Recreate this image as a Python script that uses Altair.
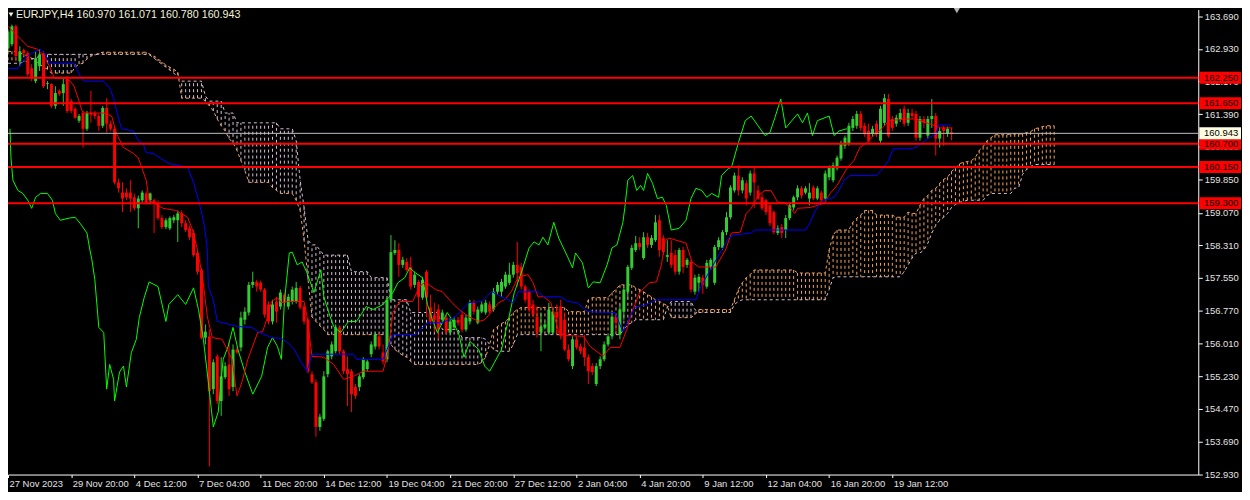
import altair as alt
import pandas as pd

# ---------------- candle data (EURJPY H4), bar 0 .. 239 ----------------
OPEN = [
162.94,163.04,163.46,162.64,162.90,162.83,162.47,162.17,162.52,162.83,
162.10,162.10,161.59,161.94,161.89,162.22,161.70,161.52,161.24,161.42,
161.05,161.42,161.42,161.35,161.12,161.54,161.17,161.05,159.79,159.55,
159.55,159.55,159.44,159.18,159.37,159.53,159.37,159.37,159.30,158.95,
158.74,158.71,158.90,158.90,159.06,158.83,158.71,158.60,158.13,157.73,
156.14,156.17,154.93,155.70,154.65,155.21,155.51,154.98,155.86,155.91,
156.56,156.73,157.38,157.45,157.43,157.27,156.92,156.52,156.99,156.87,
157.15,156.87,156.99,156.99,157.31,156.87,156.56,155.28,155.09,154.04,
154.23,155.28,155.70,155.82,156.38,155.82,155.40,155.35,154.98,154.98,
155.21,155.40,155.75,155.93,156.17,155.79,155.63,157.03,158.13,158.20,
157.85,157.92,157.80,157.38,157.45,157.08,157.69,156.85,156.66,156.80,
156.56,156.61,156.26,156.38,156.56,156.68,156.33,156.52,156.96,156.49,
156.75,156.73,156.92,156.80,157.22,157.22,157.34,157.43,157.62,157.85,
157.80,157.34,157.22,156.92,156.63,156.26,156.38,156.26,156.26,156.75,
156.87,156.56,155.86,155.47,156.10,155.93,155.91,155.68,155.47,155.05,
155.47,155.63,155.98,156.17,156.63,156.21,156.75,157.22,157.78,158.20,
158.36,158.01,158.50,158.32,158.43,158.90,158.48,158.04,158.13,158.08,
157.69,158.20,157.85,157.92,157.22,157.43,157.55,157.34,157.80,157.43,
158.27,158.25,158.62,158.97,159.60,159.95,159.60,159.77,159.55,160.00,
159.60,159.44,159.37,159.25,159.09,158.60,158.74,158.67,158.95,159.20,
159.44,159.65,159.55,159.41,159.67,159.41,159.55,159.41,159.91,159.84,
160.12,160.35,160.65,160.70,161.07,161.12,161.40,161.12,161.00,160.93,
161.17,160.77,161.19,161.75,161.28,161.17,161.28,161.52,161.19,161.42,
161.40,160.84,161.28,160.89,161.28,161.35,160.82,161.07,160.93,160.970,
]
HIGH = [
163.39,163.50,163.50,162.99,162.94,162.87,162.57,162.87,162.92,162.87,
162.17,162.12,162.05,161.98,162.24,162.29,161.75,161.56,161.40,161.47,
161.47,161.94,161.47,161.40,161.59,161.77,161.24,161.10,159.88,159.79,
159.65,159.84,159.53,159.48,159.60,159.58,159.55,159.41,159.37,159.02,
158.95,158.99,159.02,159.13,159.13,158.90,158.78,158.67,158.20,157.78,
156.45,156.33,155.63,155.75,155.68,155.56,156.03,155.98,155.93,156.75,
156.85,157.45,157.69,157.50,157.48,157.31,156.99,157.03,157.10,157.27,
157.20,157.17,157.34,157.45,157.36,156.94,156.61,155.35,155.16,154.35,
155.35,155.86,156.05,156.45,156.42,155.86,155.70,155.40,155.05,155.28,
155.68,155.63,156.05,156.28,156.24,155.98,157.08,158.55,158.43,158.36,
158.04,158.01,158.04,157.69,157.50,157.57,157.73,157.15,156.96,156.92,
156.80,156.68,156.61,156.63,156.63,156.75,156.68,157.03,157.03,156.87,
156.99,157.03,156.99,157.31,157.45,157.52,157.69,157.90,157.92,158.39,
157.90,157.38,157.27,157.03,156.87,156.73,156.52,156.96,156.85,156.92,
157.03,156.73,155.98,156.17,156.17,156.00,156.21,155.75,155.54,155.54,
155.70,156.05,156.21,156.75,156.68,156.92,157.34,157.85,158.32,158.53,
158.50,158.62,158.60,158.55,159.02,159.02,158.55,158.43,158.43,158.20,
158.25,158.27,158.01,157.97,157.62,157.64,157.62,157.97,158.01,158.32,
158.50,158.67,159.09,159.72,160.02,160.19,159.91,159.84,160.07,160.14,
159.72,159.53,159.41,159.30,159.13,158.78,158.81,159.02,159.32,159.48,
159.72,159.70,159.70,159.77,159.72,159.70,159.60,160.07,160.19,160.26,
160.42,160.77,160.89,161.19,161.35,161.47,161.47,161.19,161.17,161.12,
161.24,161.59,161.87,161.87,161.35,161.38,161.52,161.59,161.52,161.52,
161.47,161.35,161.35,161.35,161.75,161.42,161.07,161.12,161.10,161.071,
]
LOW = [
162.87,162.99,162.64,162.52,162.76,162.29,162.17,162.12,162.41,162.01,
161.98,161.54,161.52,161.82,161.59,161.42,161.42,161.28,161.19,160.61,
161.00,161.19,161.28,161.00,161.07,160.96,161.00,159.74,159.55,159.09,
159.37,159.09,159.13,158.71,159.32,159.27,159.27,158.60,158.90,158.69,
158.69,158.67,158.83,158.39,158.74,158.62,158.43,158.04,157.62,156.10,
155.98,153.11,154.81,154.58,154.30,155.16,154.77,154.88,155.75,155.82,
156.45,156.66,157.31,157.22,157.22,156.61,156.45,156.45,156.49,156.80,
156.89,156.80,156.92,156.94,156.80,156.45,155.30,155.05,153.81,153.95,
154.18,155.21,155.63,155.77,155.75,155.28,154.53,154.39,154.70,154.88,
155.16,155.35,155.68,155.86,155.86,155.51,155.56,156.99,158.08,157.57,
157.78,157.69,157.27,157.31,156.75,157.03,156.63,156.45,156.26,156.10,
156.52,156.21,156.19,156.33,156.42,156.26,156.28,156.45,156.68,156.45,
156.71,156.68,156.71,156.75,157.15,157.10,157.29,157.38,157.55,157.34,
157.27,156.96,156.73,156.61,156.14,155.82,156.33,156.21,156.21,156.21,
156.10,155.82,155.58,155.40,155.86,155.75,155.47,155.05,155.26,155.00,
155.40,155.58,155.93,156.10,156.26,156.10,156.56,157.03,157.73,158.15,
158.20,157.97,158.25,158.25,158.39,158.04,158.08,157.92,157.78,157.62,
157.62,157.66,157.78,157.20,157.15,157.22,157.17,157.29,157.73,157.38,
158.20,158.20,158.55,158.92,159.55,159.48,159.53,159.25,159.48,159.18,
159.37,159.13,159.02,158.76,158.57,158.55,158.48,158.48,158.90,159.13,
159.37,159.41,159.51,159.25,159.37,159.37,159.30,159.37,159.84,159.79,
160.07,160.30,160.58,160.65,161.00,161.05,161.00,160.86,160.72,160.86,
160.86,160.72,161.12,160.84,161.00,161.10,161.21,161.10,161.12,161.28,
160.77,160.77,161.07,160.82,161.07,160.42,160.61,160.65,160.86,160.780,
]
CLOSE = [
163.34,163.46,162.76,162.87,162.83,162.33,162.24,162.71,162.80,162.05,
162.12,161.59,161.89,161.87,162.10,161.47,161.47,161.31,161.35,161.05,
161.42,161.38,161.35,161.12,161.54,161.17,161.05,159.79,159.65,159.41,
159.44,159.41,159.18,159.41,159.55,159.32,159.53,159.30,158.95,158.74,
158.90,158.95,158.97,159.06,158.83,158.67,158.50,158.08,157.69,156.14,
156.28,154.88,155.56,154.65,155.23,155.47,154.93,155.86,155.79,156.61,
156.75,157.38,157.45,157.34,157.27,156.68,156.52,156.92,156.75,157.20,
156.96,157.10,157.27,157.31,156.85,156.52,155.35,155.09,154.04,154.28,
155.23,155.82,155.98,156.38,155.82,155.35,155.28,154.81,154.77,155.23,
155.63,155.58,155.98,156.21,155.93,155.58,157.03,158.15,158.20,157.85,
157.97,157.73,157.34,157.62,157.10,157.50,157.08,156.52,156.56,156.33,
156.73,156.28,156.52,156.56,156.49,156.33,156.61,156.96,156.75,156.80,
156.92,156.96,156.75,157.22,157.38,157.45,157.62,157.62,157.85,157.66,
157.34,157.03,156.80,156.68,156.26,156.40,156.45,156.80,156.75,156.61,
156.17,155.86,155.63,156.10,155.91,155.82,155.68,155.35,155.33,155.47,
155.63,155.98,156.17,156.63,156.49,156.80,157.27,157.80,158.25,158.36,
158.27,158.50,158.32,158.48,158.85,158.20,158.15,158.08,157.85,157.69,
158.20,157.80,157.97,157.27,157.55,157.57,157.38,157.90,157.97,158.27,
158.43,158.62,158.97,159.67,159.95,159.60,159.84,159.41,160.00,159.79,
159.41,159.18,159.09,158.83,158.62,158.71,158.60,158.95,159.25,159.44,
159.65,159.48,159.65,159.55,159.41,159.65,159.37,160.00,160.14,160.19,
160.37,160.72,160.84,161.12,161.28,161.40,161.07,160.93,160.77,161.05,
160.93,161.52,161.77,160.89,161.07,161.31,161.42,161.17,161.42,161.35,
160.84,161.28,161.19,161.28,161.35,160.82,161.00,161.00,161.05,160.943,
]

# ---------------- Ichimoku senkou spans, bar 0 .. 265 ----------------
SPAN_A = [
162.87,162.87,162.87,162.83,162.80,162.76,162.71,162.64,162.57,162.50,162.45,
162.36,162.36,162.36,162.36,162.36,162.36,
162.50,162.57,162.59,162.69,162.76,162.78,162.83,
162.85,162.85,162.85,162.85,162.85,162.85,162.85,162.85,162.85,162.85,162.85,162.85,
162.80,162.76,162.69,162.62,162.55,162.50,162.45,162.38,
161.77,161.77,161.77,161.77,161.77,161.77,
161.70,161.59,161.47,161.28,161.12,161.00,160.82,160.72,160.54,160.30,160.07,
159.79,159.79,159.79,159.79,159.79,159.79,
159.67,159.60,
159.53,159.53,159.53,159.53,
159.37,159.13,158.43,157.50,156.63,156.52,156.42,156.33,
156.21,156.21,156.21,156.21,156.21,156.21,156.21,156.21,156.21,156.21,156.21,156.21,156.21,156.21,156.21,156.21,
155.98,155.86,155.79,155.72,155.68,155.58,
155.51,155.51,155.51,155.51,155.51,155.51,155.51,155.51,155.51,155.51,155.51,155.51,155.51,155.51,155.51,155.51,155.51,
155.56,155.68,155.98,156.33,156.40,156.47,156.52,156.61,156.73,156.80,
156.85,156.85,156.85,156.85,156.85,156.85,156.85,156.85,156.85,156.85,156.85,156.85,
156.75,156.75,156.75,156.75,156.75,
157.03,
157.08,157.08,157.08,157.08,157.08,
157.20,157.27,
157.38,157.38,157.38,157.38,
157.31,157.27,157.22,157.15,157.10,157.03,156.99,156.94,156.89,
156.61,156.61,156.61,156.61,156.61,156.61,
156.68,
156.80,156.80,156.80,156.80,156.80,156.80,156.80,156.80,156.80,
157.03,157.27,157.43,157.55,157.62,
157.73,157.73,157.73,157.73,157.73,157.73,157.73,157.73,157.73,157.73,157.73,
157.66,157.66,157.66,157.66,157.66,157.66,157.66,157.66,
158.20,158.55,
158.67,158.67,158.67,158.67,
158.85,158.95,159.02,
159.13,159.13,159.13,
159.02,159.02,159.02,159.02,159.02,
158.97,158.97,158.97,
159.09,159.06,159.06,159.25,159.41,159.48,159.60,159.65,159.77,159.86,159.91,
160.05,160.12,160.23,160.26,160.28,160.30,160.37,160.54,160.63,160.77,160.84,
160.91,160.91,160.91,160.91,
160.93,160.93,160.93,160.93,
160.96,160.98,161.05,161.07,161.10,
161.12,161.12,161.12,
]
SPAN_B = [
162.59,162.59,162.59,162.59,162.62,162.64,162.69,162.71,162.76,162.78,162.80,
162.80,162.80,162.80,162.80,162.80,162.80,162.80,162.80,162.80,162.80,162.80,162.80,162.80,
162.80,162.80,162.80,162.80,162.80,162.80,162.80,162.80,162.80,162.80,162.80,162.80,
162.78,162.71,162.64,162.57,162.50,162.43,162.36,162.26,
162.17,162.17,162.17,162.17,162.17,162.17,
161.82,
161.70,161.70,161.70,161.70,
161.42,161.42,161.42,
161.19,161.19,161.19,161.19,161.19,161.19,161.19,161.19,161.19,161.19,161.19,
161.05,161.05,161.05,161.05,
160.77,159.84,159.20,158.43,158.32,158.32,158.20,
158.08,158.08,158.08,158.08,158.08,158.08,158.08,
157.69,157.69,157.69,157.69,157.69,
157.55,157.55,157.55,157.55,157.55,
157.03,157.03,157.03,157.03,157.03,
156.73,156.73,156.73,156.73,156.73,156.73,156.73,156.73,
156.33,156.33,156.33,156.33,156.33,
156.14,156.14,156.14,156.14,156.14,156.14,
156.10,155.98,155.86,
155.82,155.82,155.82,155.82,
155.98,156.21,
156.21,156.21,156.21,156.21,156.21,156.21,156.21,156.21,156.21,156.21,156.21,156.21,156.21,
156.21,156.21,156.21,156.21,156.21,156.21,156.21,156.21,156.21,156.21,156.21,156.21,156.21,
156.33,156.45,156.49,
156.56,156.56,156.56,156.56,156.56,156.56,156.56,156.56,
156.85,
156.99,156.99,156.99,156.99,156.99,156.99,
156.80,
156.73,156.73,156.73,156.73,156.73,156.73,156.73,156.73,156.73,
156.92,156.99,
157.03,157.03,157.03,157.03,157.03,157.03,157.03,157.03,157.03,157.03,157.03,
157.03,157.03,157.03,157.03,157.03,157.03,157.03,157.03,157.03,157.03,157.03,
157.27,157.55,
157.57,157.57,157.57,157.57,157.57,157.57,157.57,157.57,157.57,157.57,157.57,157.57,157.57,
157.57,157.57,157.57,157.57,
157.69,157.85,158.01,158.13,158.13,158.20,158.36,158.60,158.78,158.90,158.97,159.06,
159.20,159.27,159.32,159.34,
159.37,159.37,159.37,159.37,159.37,
159.48,159.53,
159.53,159.53,159.53,159.53,159.53,
159.65,159.67,159.98,160.09,160.16,
160.21,160.21,160.21,160.21,160.21,160.21,
]

# ---------------- Ichimoku lines: (bar, price) vertices ----------------
TENKAN_BAR = [0,3.25,5,7.5,9.5,10.5,11.75,14.5,15.75,16.75,18,18.75,19.5,24.25,26.25,27.5,29.25,31.75,33,35,
35.75,39.25,42.5,45.5,46.75,48,49.25,50.5,51.75,54.25,55.5,56.75,58,59.25,60.75,63.25,64.5,65.5,66.75,68.25,
69.25,70.75,75,75.75,77,80,82.5,85,87.5,90,95,96.25,97.5,99.25,102.5,104.25,105.75,108.25,110,112.5,
114.25,116.75,119.25,120.75,122.5,124.25,125.75,127.5,129.25,131.75,133,134.25,135.75,137.5,139.5,141.25,145.75,147.5,150.75,152.5,
155,156.75,158,160,162.5,164.25,165.5,166.5,167.5,171.75,173.25,175,179.25,181.75,183.25,185.5,187,188.25,190,191.75,
193.25,195,196.75,198.25,199.25,200,203.25,206.75,208.25,210,212.5,214.25,215.75,217.5,219.25,220.75,223.25,227.5,230,233.25,
235,236.25,239.25]
TENKAN_P = [163.46,163.15,162.99,162.92,162.69,162.52,162.24,162.24,162.17,162.05,161.70,161.47,161.42,161.42,161.35,160.93,160.61,160.47,160.37,159.84,
159.37,159.18,159.13,158.97,158.67,158.20,157.57,156.63,156.14,156.10,155.86,155.63,154.77,155.09,155.63,156.26,156.28,156.56,156.99,157.08,
156.96,156.99,156.99,156.63,155.70,155.68,155.51,155.16,155.23,155.35,155.35,155.79,156.73,156.99,156.99,157.34,157.45,157.27,157.22,156.96,
156.80,156.63,156.52,156.56,156.75,156.96,157.03,157.22,157.57,157.62,157.43,157.10,157.10,156.96,156.26,156.19,156.17,155.93,155.70,155.91,
155.91,156.33,156.73,157.20,157.43,157.45,157.85,158.43,158.48,158.36,157.92,157.80,157.80,158.20,158.60,158.62,159.06,159.18,159.48,159.60,
159.60,159.32,159.32,159.18,159.06,159.18,159.20,159.30,159.53,159.72,160.12,160.30,160.61,160.72,160.89,161.00,161.24,161.28,161.28,161.17,
161.12,161.07,161.07]

KIJUN_BAR = [0,2.5,4.25,5.5,8,9.25,10.5,16.75,17.5,18.25,19.25,24.25,25.75,26.75,27.5,28.75,31.75,33,34.25,35,
36.75,40.75,43.25,45.5,47,48.25,49.5,50,50.5,50.75,52,53,54.5,58.25,61.75,63.75,66.75,69.25,70.75,72.5,
74.25,75.75,77,87.5,88.25,95,96.75,97.5,103.25,106.25,110,113.25,115,116.75,120,122.5,125,126.75,128,129.25,
134.25,135.75,140,141.75,144.25,146.75,153.75,155.75,157,158.75,161.75,164.25,174.25,175.5,182.5,183.75,188.25,189.25,202,203.25,
204.5,205.75,206.75,209.25,210.5,211.75,213.25,220,221.75,223,224.25,228.25,230,233,235,235.75,238.75]
KIJUN_P = [162.47,162.47,162.69,162.80,162.92,162.83,162.59,162.59,162.45,162.29,162.17,162.17,162.01,161.77,161.47,161.05,161.00,160.77,160.70,160.49,
160.47,160.23,160.19,160.14,159.79,159.37,158.90,158.60,158.20,157.34,157.03,156.52,156.49,156.40,156.38,156.26,156.14,156.12,156.03,155.86,
155.56,155.35,155.75,155.75,155.63,155.63,156.03,156.21,156.21,156.49,156.49,156.63,156.80,156.96,156.99,157.22,157.10,157.03,156.96,157.22,
157.22,157.10,157.10,156.99,156.96,156.75,156.73,156.28,156.52,156.85,156.92,157.03,157.03,157.34,158.48,158.55,158.60,158.67,158.67,158.85,
159.13,159.30,159.37,159.44,159.60,159.84,159.95,159.95,160.14,160.30,160.58,160.58,160.61,160.82,160.93,161.14,161.14]

CHIKOU_BAR = [0.5,0.75,1.25,2.5,3.75,5,6,7,8.25,10,11.25,12,13.25,15.5,17,18.25,20,20.75,21.25,22,
23,24.25,25,25.75,26.75,27,28.25,29.25,30,31.25,32.5,33.25,34.5,35.75,38,40,40.75,43,45,47,
48.25,49.5,50.75,52,53.25,54.5,55.75,57,58.25,60,62,64.25,65.75,67,68.25,69.25,70,71.25,72,73.25,
74.5,75.75,77.5,79.25,80,81.25,82.5,84.25,86.25,88.25,90.75,92.5,95,97.5,98.75,100.5,101.75,103.25,105,106.25,
107.5,108.75,110,111.25,112.5,114.25,115.5,117,119.25,120.75,122,123.25,125,126.75,128.25,130,132,133.25,134.5,135.5,
136.75,138.25,139.5,141.75,143,143.75,145.5,147,148.25,150,151.75,153,154.25,155.75,156.25,157,158.25,159.25,160.25,161,
162,163.25,164.5,165.75,166.75,168,170,171.75,173,174.25,175.75,177,178.25,180,180.75,182.5,183.25,185,186.75,188.25,
190,191.75,193,194.25,195.75,197,200,201.25,202.5,203.75,205,208,209.25,210.5,212.5]
CHIKOU_P = [161.05,160.37,159.84,159.60,159.53,159.37,159.18,159.44,159.53,159.53,159.37,159.06,158.90,158.95,158.97,158.83,158.60,158.20,157.97,157.50,
156.38,156.26,154.93,155.51,155.16,154.65,155.33,155.47,154.98,155.79,156.10,156.61,157.08,157.45,157.34,156.52,156.92,157.15,156.92,157.31,
156.80,156.10,155.09,154.04,154.39,155.63,155.93,156.38,155.86,155.33,154.81,155.23,155.91,156.14,155.93,155.63,156.96,158.13,158.15,157.85,
157.92,157.66,157.20,157.73,157.10,156.73,156.40,156.26,156.52,156.52,156.87,156.80,156.92,157.20,157.43,157.55,157.78,157.66,157.55,156.92,
156.56,156.26,156.49,156.73,156.56,156.21,155.68,156.05,155.86,155.47,155.35,155.56,155.86,156.56,157.20,157.66,158.25,158.39,158.32,158.50,
158.32,158.85,158.48,158.04,157.78,158.13,157.90,157.31,157.45,157.43,157.85,158.25,158.32,158.85,159.20,159.84,159.95,159.60,159.72,159.60,
160.00,159.77,159.41,159.44,159.25,158.67,158.71,158.90,159.41,159.65,159.60,159.44,159.53,159.44,159.95,160.12,160.14,160.72,161.24,161.35,
161.12,160.89,160.96,161.31,161.75,161.07,161.40,161.19,161.42,160.89,161.24,161.35,160.89,161.00,161.05]

# ---------------- horizontal levels & axis labels ----------------
LEVELS = [162.250, 161.650, 160.700, 160.150, 159.300]
CURRENT = 160.943
PRICE_TICKS = [163.690,162.930,162.170,161.390,160.630,159.850,159.070,158.310,
               157.550,156.770,156.010,155.230,154.470,153.690,152.930]
TIME_TICK_BARS = [0,16,32,48,64,80,96,112,128,144,160,176,192,208,224]
TIME_LABELS = ["27 Nov 2023","29 Nov 20:00","4 Dec 12:00","7 Dec 04:00","11 Dec 20:00",
               "14 Dec 12:00","19 Dec 04:00","21 Dec 20:00","27 Dec 12:00","2 Jan 04:00",
               "4 Jan 20:00","9 Jan 12:00","12 Jan 04:00","16 Jan 20:00","19 Jan 12:00"]
HEADER = "EURJPY,H4  160.970 161.071 160.780 160.943"

# ---------------- frames ----------------
candles = pd.DataFrame({"bar": list(range(len(CLOSE))), "open": OPEN, "high": HIGH,
                        "low": LOW, "close": CLOSE})
candles["kind"] = ["bull" if c >= o else "bear" for o, c in zip(OPEN, CLOSE)]
cloud = pd.DataFrame({"bar": list(range(len(SPAN_A))), "a": SPAN_A, "b": SPAN_B})
cloud["kind"] = ["kumo_up" if a >= b else "kumo_down" for a, b in zip(SPAN_A, SPAN_B)]
tenkan = pd.DataFrame({"bar": TENKAN_BAR, "price": TENKAN_P})
kijun = pd.DataFrame({"bar": KIJUN_BAR, "price": KIJUN_P})
chikou = pd.DataFrame({"bar": CHIKOU_BAR, "price": CHIKOU_P})
levels = pd.DataFrame({"price": LEVELS, "label": [f"{v:.3f}" for v in LEVELS]})
current = pd.DataFrame({"price": [CURRENT], "label": [f"{CURRENT:.3f}"]})
header = pd.DataFrame({"t": [HEADER]})

W, H = 1198, 468
FONT = "Liberation Sans"
LBL = "#e2e2e2"

xs = alt.Scale(domain=[0, 301.5], nice=False, zero=False)
ys = alt.Scale(domain=[152.921, 163.853], nice=False, zero=False)

label_arr = "[" + ",".join("'" + s + "'" for s in TIME_LABELS) + "]"
x_axis = alt.Axis(values=TIME_TICK_BARS, labelExpr=label_arr + "[round(datum.value/16)]",
                  title=None, grid=False, labelAlign="left", labelOffset=1, labelBaseline="top",
                  labelPadding=1, tickSize=3, labelOverlap=False, labelFlush=False,
                  labelColor=LBL, labelFont=FONT, labelFontSize=9.5,
                  domainColor="#ffffff", tickColor="#ffffff", zindex=0)
y_axis = alt.Axis(orient="right", values=PRICE_TICKS, format=".3f", title=None, grid=False,
                  tickSize=4, labelPadding=2, labelOverlap=False, labelFlush=False,
                  labelColor=LBL, labelFont=FONT, labelFontSize=9.5,
                  domainColor="#ffffff", tickColor="#ffffff", zindex=0)


def X(field="bar"):
    return alt.X(f"{field}:Q", scale=xs, axis=x_axis)


def Y(field):
    return alt.Y(f"{field}:Q", scale=ys, axis=y_axis)


kind_color = alt.Color(
    "kind:N",
    scale=alt.Scale(domain=["bull", "bear", "kumo_up", "kumo_down"],
                    range=["#32cd32", "#ff0000", "#f4a460", "#d8bfd8"]),
    legend=None)

cloud_cols = alt.Chart(cloud).mark_rule(strokeWidth=1, strokeDash=[3, 3]).encode(
    x=X(), y=Y("a"), y2="b", color=kind_color)
span_a = alt.Chart(cloud).mark_line(color="#f4a460", strokeWidth=1, strokeDash=[3, 3]).encode(
    x=X(), y=Y("a"))
span_b = alt.Chart(cloud).mark_line(color="#d8bfd8", strokeWidth=1, strokeDash=[3, 3]).encode(
    x=X(), y=Y("b"))

wicks = alt.Chart(candles).mark_rule(strokeWidth=1).encode(
    x=X(), y=Y("low"), y2="high", color=kind_color)
bodies = alt.Chart(candles).mark_rule(strokeWidth=3).encode(
    x=X(), y=Y("open"), y2="close", color=kind_color)

chikou_l = alt.Chart(chikou).mark_line(color="#00ff00", strokeWidth=1).encode(x=X(), y=Y("price"))
tenkan_l = alt.Chart(tenkan).mark_line(color="#ff0000", strokeWidth=1).encode(x=X(), y=Y("price"))
kijun_l = alt.Chart(kijun).mark_line(color="#0000ff", strokeWidth=1).encode(x=X(), y=Y("price"))

cur_line = alt.Chart(current).mark_rule(color="#c0c0c0", strokeWidth=1).encode(y=Y("price"))
lvl_lines = alt.Chart(levels).mark_rule(color="#ff0000", strokeWidth=2).encode(y=Y("price"))

BOX = "M-1,-0.2857L1,-0.2857L1,0.2857L-1,0.2857Z"
lvl_box = alt.Chart(levels).mark_point(shape=BOX, filled=True, size=1764, opacity=1,
                                       color="#ff0000", strokeWidth=0).encode(
    x=alt.value(1220), y=Y("price"))
lvl_txt = alt.Chart(levels).mark_text(font=FONT, fontSize=9.5, color="#000000",
                                      align="center", baseline="middle").encode(
    x=alt.value(1221), y=Y("price"), text="label:N")
cur_box = alt.Chart(current).mark_point(shape=BOX, filled=True, size=1764, opacity=1,
                                        color="#fffde2", strokeWidth=0).encode(
    x=alt.value(1220), y=Y("price"))
cur_txt = alt.Chart(current).mark_text(font=FONT, fontSize=9.5, color="#000000",
                                       align="center", baseline="middle").encode(
    x=alt.value(1221), y=Y("price"), text="label:N")

head_tri = alt.Chart(header).mark_point(shape="triangle-down", filled=True, size=24,
                                        color="#f2f2dc", opacity=1).encode(
    x=alt.value(3), y=alt.value(5))
head_txt = alt.Chart(header).mark_text(font=FONT, fontSize=10.8, color="#f2f2dc",
                                       align="left", baseline="middle").encode(
    x=alt.value(8), y=alt.value(5), text="t:N")
shift_tri = alt.Chart(header).mark_point(shape="triangle-down", filled=True, size=40,
                                         color="#b4b4b4", opacity=1).encode(
    x=alt.value(955), y=alt.value(1))

chart = alt.layer(
    cloud_cols, span_a, span_b, wicks, bodies, chikou_l, tenkan_l, kijun_l,
    cur_line, lvl_lines, lvl_box, lvl_txt, cur_box, cur_txt, head_tri, head_txt, shift_tri
).properties(
    width=W, height=H,
    padding={"left": 0, "top": 0, "right": 44, "bottom": 16},
    autosize=alt.AutoSizeParams(type="none"),
    background="#000000",
).configure_view(stroke=None, fill="#000000")

chart.save("out.html", embed_options={"renderer": "svg", "actions": False})
